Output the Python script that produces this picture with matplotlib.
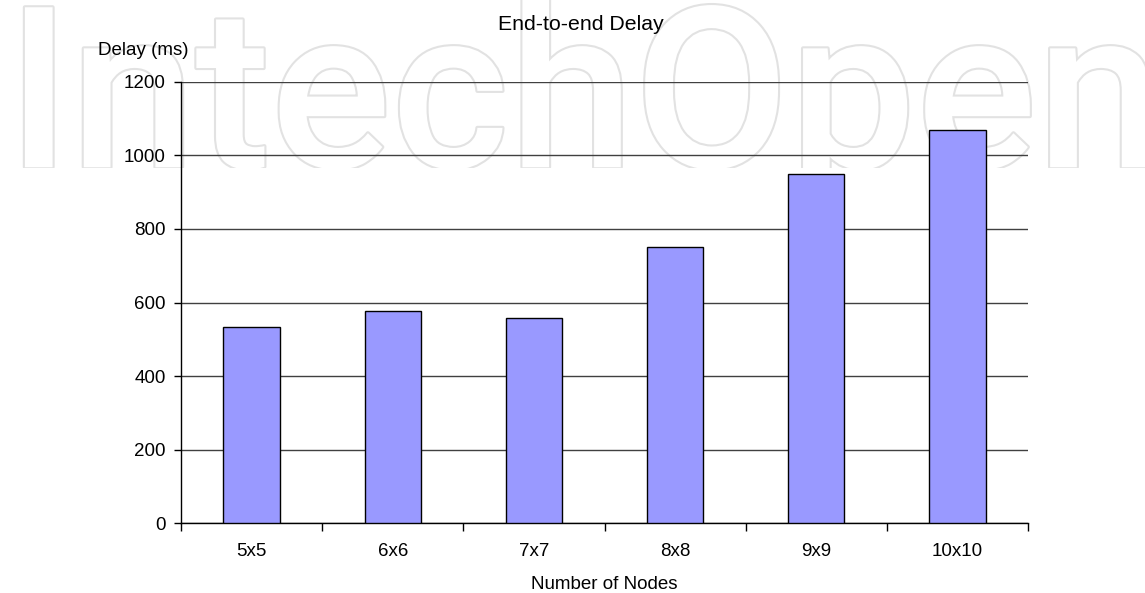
import matplotlib.pyplot as plt
import matplotlib.patheffects as pe
from matplotlib.transforms import Bbox, TransformedBbox
import numpy as np

# data
categories = ['5x5', '6x6', '7x7', '8x8', '9x9', '10x10']
delay_ms = [533, 577, 558, 751, 950, 1070]
y_ticks = [0, 200, 400, 600, 800, 1000, 1200]

plt.rcParams['font.family'] = ['Liberation Sans', 'DejaVu Sans']

fig = plt.figure(figsize=(11.45, 5.93), dpi=100)

# faint outlined watermark behind the chart, cut off at its baseline
wm = fig.text(0.006, 0.718, 'IntechOpen', fontsize=162, family='Roboto',
              fontweight='medium', color='white', zorder=-1, va='baseline')
wm.set_path_effects([pe.withStroke(linewidth=3, foreground='#e2e2e2')])
wm.set_clip_box(TransformedBbox(Bbox([[0, 0.716], [1, 1]]), fig.transFigure))
wm.set_clip_on(True)

ax = fig.add_axes([0.1581, 0.1175, 0.7397, 0.7447])
ax.patch.set_alpha(0)

x = np.arange(len(categories))
ax.bar(x, delay_ms, width=0.4, color='#9999ff', edgecolor='black', linewidth=1, zorder=3)

ax.set_xlim(-0.5, len(categories) - 0.5)
ax.set_ylim(0, 1200)
ax.set_yticks(y_ticks)
ax.yaxis.grid(True, color='#404040', linewidth=1, zorder=0)

ax.set_xticks(x)
ax.set_xticklabels(categories, fontsize=13.5)
ax.tick_params(axis='x', length=0, pad=14)
ax.set_xticks(np.arange(len(categories) + 1) - 0.5, minor=True)
ax.tick_params(axis='x', which='minor', length=6, width=1, color='black')
ax.tick_params(axis='y', labelsize=13.5, length=5, width=1, pad=6)

for side in ['top', 'right']:
    ax.spines[side].set_visible(False)
for side in ['left', 'bottom']:
    ax.spines[side].set_color('black')
    ax.spines[side].set_linewidth(1)

ax.set_xlabel('Number of Nodes', fontsize=13.5, labelpad=12)
fig.text(0.507, 0.958, 'End-to-end Delay', fontsize=15.3, ha='center', va='center')
fig.text(0.086, 0.915, 'Delay (ms)', fontsize=13.5, ha='left', va='center')

fig.savefig('out.png', dpi=100)
